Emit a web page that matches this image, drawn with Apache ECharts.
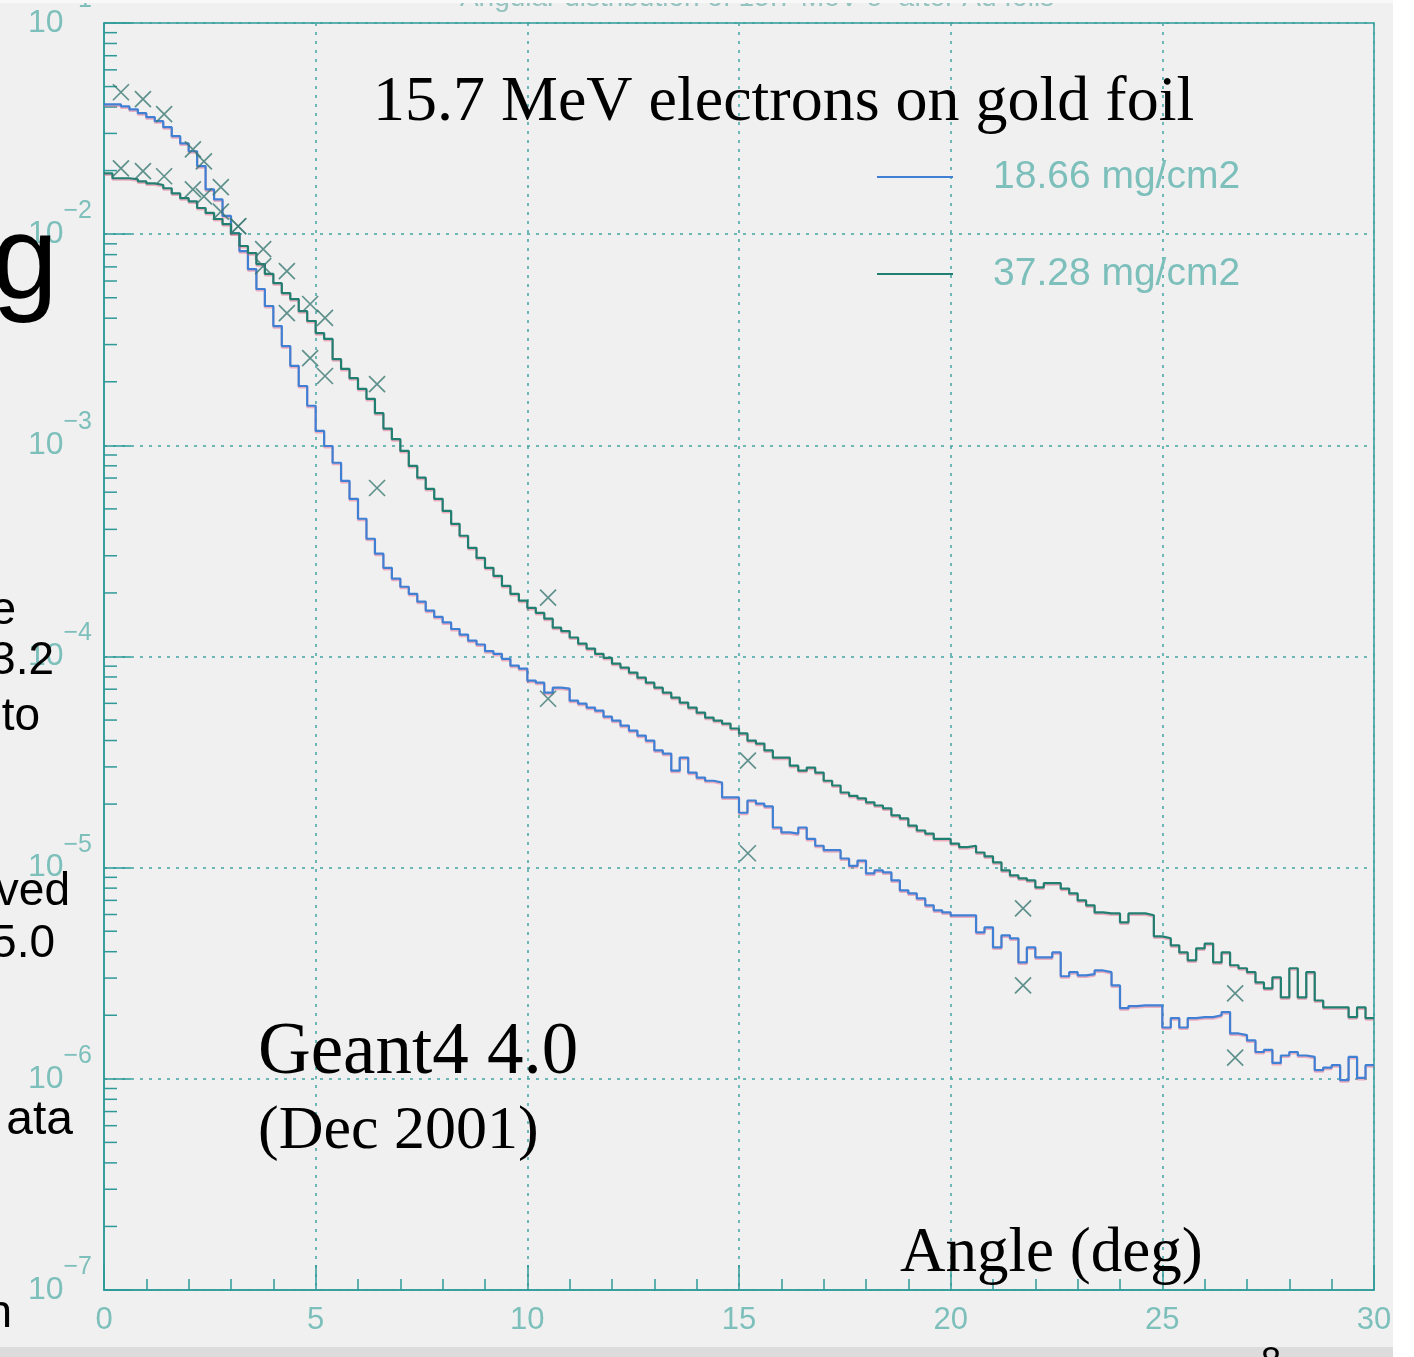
<!doctype html>
<html>
<head>
<meta charset="utf-8">
<title>Angular distribution of 15.7 MeV e- after Au foils</title>
<script src="https://cdn.jsdelivr.net/npm/echarts@6/dist/echarts.min.js"></script>
<style>
    html, body {margin: 0; padding: 0; background: #f0f0f0;}
    #chart {width: 1414px; height: 1357px;}
</style>
</head>
<body>
<div id="chart"></div>
<script>
    // histogram bins, 0.2 deg wide, 0..30 deg
    const binWidth = 0.2;
    const thinHist = [
        4.12e-2, 4.12e-2, 4.03e-2, 3.90e-2, 3.74e-2, 3.58e-2, 3.43e-2, 3.21e-2, 2.91e-2, 2.69e-2,
        2.47e-2, 2.10e-2, 1.63e-2, 1.46e-2, 1.22e-2, 1.01e-2, 8.32e-3, 6.83e-3, 5.50e-3, 4.57e-3,
        3.67e-3, 2.95e-3, 2.38e-3, 1.91e-3, 1.54e-3, 1.17e-3, 9.93e-4, 8.27e-4, 6.79e-4, 5.58e-4,
        4.49e-4, 3.61e-4, 3.07e-4, 2.63e-4, 2.34e-4, 2.14e-4, 1.98e-4, 1.82e-4, 1.65e-4, 1.54e-4,
        1.45e-4, 1.35e-4, 1.27e-4, 1.19e-4, 1.14e-4, 1.06e-4, 1.03e-4, 9.75e-5, 9.06e-5, 8.77e-5,
        7.69e-5, 7.52e-5, 6.74e-5, 7.12e-5, 7.04e-5, 6.18e-5, 5.98e-5, 5.73e-5, 5.54e-5, 5.19e-5,
        4.97e-5, 4.71e-5, 4.46e-5, 4.22e-5, 4.00e-5, 3.59e-5, 3.47e-5, 2.88e-5, 3.32e-5, 2.82e-5,
        2.67e-5, 2.58e-5, 2.53e-5, 2.15e-5, 2.15e-5, 1.82e-5, 2.08e-5, 2.01e-5, 1.95e-5, 1.55e-5,
        1.47e-5, 1.45e-5, 1.55e-5, 1.37e-5, 1.27e-5, 1.21e-5, 1.21e-5, 1.105e-5, 1.02e-5, 1.08e-5,
        9.39e-6, 9.70e-6, 9.49e-6, 8.70e-6, 7.81e-6, 7.55e-6, 7.15e-6, 6.63e-6, 6.28e-6, 6.14e-6,
        5.95e-6, 5.95e-6, 5.95e-6, 4.94e-6, 5.22e-6, 4.19e-6, 4.78e-6, 4.63e-6, 3.56e-6, 4.19e-6,
        3.76e-6, 3.76e-6, 3.97e-6, 3.06e-6, 3.20e-6, 3.09e-6, 3.13e-6, 3.26e-6, 3.20e-6, 2.77e-6,
        2.16e-6, 2.21e-6, 2.23e-6, 2.23e-6, 2.23e-6, 1.75e-6, 1.94e-6, 1.75e-6, 1.94e-6, 1.96e-6,
        1.96e-6, 2.00e-6, 2.07e-6, 1.64e-6, 1.61e-6, 1.52e-6, 1.34e-6, 1.37e-6, 1.19e-6, 1.29e-6,
        1.34e-6, 1.29e-6, 1.27e-6, 1.10e-6, 1.13e-6, 1.16e-6, 9.85e-7, 1.27e-6, 1.01e-6, 1.16e-6
    ];
    const thickHist = [
        1.94e-2, 1.84e-2, 1.84e-2, 1.82e-2, 1.78e-2, 1.74e-2, 1.71e-2, 1.65e-2, 1.56e-2, 1.48e-2,
        1.43e-2, 1.33e-2, 1.26e-2, 1.18e-2, 1.115e-2, 1.01e-2, 8.79e-3, 8.14e-3, 7.22e-3, 6.49e-3,
        5.86e-3, 5.26e-3, 4.93e-3, 4.32e-3, 3.88e-3, 3.40e-3, 3.19e-3, 2.56e-3, 2.30e-3, 2.08e-3,
        1.85e-3, 1.66e-3, 1.42e-3, 1.20e-3, 1.07e-3, 9.41e-4, 7.99e-4, 7.03e-4, 6.22e-4, 5.58e-4,
        4.89e-4, 4.25e-4, 3.73e-4, 3.27e-4, 2.93e-4, 2.63e-4, 2.41e-4, 2.16e-4, 1.98e-4, 1.84e-4,
        1.70e-4, 1.61e-4, 1.51e-4, 1.37e-4, 1.32e-4, 1.23e-4, 1.15e-4, 1.09e-4, 1.03e-4, 9.86e-5,
        9.25e-5, 8.86e-5, 8.39e-5, 7.94e-5, 7.52e-5, 7.12e-5, 6.74e-5, 6.39e-5, 6.05e-5, 5.73e-5,
        5.42e-5, 5.14e-5, 4.97e-5, 4.81e-5, 4.56e-5, 4.32e-5, 4.00e-5, 3.87e-5, 3.59e-5, 3.32e-5,
        3.32e-5, 3.04e-5, 2.88e-5, 2.98e-5, 2.82e-5, 2.58e-5, 2.45e-5, 2.27e-5, 2.19e-5, 2.13e-5,
        2.04e-5, 1.97e-5, 1.91e-5, 1.77e-5, 1.71e-5, 1.58e-5, 1.50e-5, 1.45e-5, 1.37e-5, 1.37e-5,
        1.30e-5, 1.25e-5, 1.27e-5, 1.18e-5, 1.13e-5, 1.06e-5, 9.70e-6, 9.19e-6, 8.90e-6, 8.70e-6,
        8.07e-6, 8.44e-6, 8.44e-6, 7.96e-6, 7.55e-6, 7.00e-6, 6.63e-6, 6.14e-6, 6.07e-6, 6.07e-6,
        5.51e-6, 6.07e-6, 6.07e-6, 5.95e-6, 4.73e-6, 4.63e-6, 4.29e-6, 3.97e-6, 3.64e-6, 4.15e-6,
        4.37e-6, 3.56e-6, 3.97e-6, 3.45e-6, 3.34e-6, 3.20e-6, 2.86e-6, 2.68e-6, 3.02e-6, 2.43e-6,
        3.34e-6, 2.43e-6, 3.20e-6, 2.35e-6, 2.18e-6, 2.18e-6, 2.18e-6, 1.96e-6, 2.18e-6, 1.94e-6
    ];

    // measured points (x markers)
    const dataAngles = [0.40, 0.92, 1.42, 2.10, 2.36, 2.76, 3.17, 3.76, 4.32, 4.87, 5.22, 6.45, 10.49, 15.21, 21.71, 26.72];
    const thinData = [4.70e-2, 4.36e-2, 3.70e-2, 2.52e-2, 2.21e-2, 1.67e-2, 1.09e-2, 7.06e-3, 4.23e-3, 2.59e-3, 2.13e-3, 6.28e-4, 6.31e-5, 1.17e-5, 2.77e-6, 1.26e-6];
    const thickData = [2.05e-2, 1.99e-2, 1.88e-2, 1.63e-2, 1.51e-2, 1.28e-2, 1.09e-2, 8.49e-3, 6.68e-3, 4.67e-3, 4.01e-3, 1.95e-3, 1.90e-4, 3.21e-5, 6.41e-6, 2.54e-6];

    // log axis minor tick positions
    const decades = [1e-7, 1e-6, 1e-5, 1e-4, 1e-3, 1e-2];
    const mantissas = [2, 3, 4, 5, 6, 7, 8, 9];

    const axisColor = '#2e9a98';
    const labelColor = '#7cbfbb';
    const gridColor = '#42a5a3';

    function steps(vals) {
        let pts = vals.map((v, i) => [+(i * binWidth).toFixed(2), v]);
        pts.push([30, vals[vals.length - 1]]);
        return pts;
    }

    let minorTicks = [];
    decades.forEach(d => mantissas.forEach(m => minorTicks.push([0, m * d])));

    const serif = '"Liberation Serif", "Times New Roman", serif';
    const sans = '"Liberation Sans", Arial, sans-serif';

    function slideText(text, x, y, size, family, align) {
        return {
            type: 'text', z: 100, silent: true,
            style: {x: x, y: y, text: text, fill: '#000', fontSize: size, fontFamily: family,
                align: align || 'left', verticalAlign: 'middle'}
        };
    }

    let chart = echarts.init(document.getElementById('chart'));
    chart.setOption({
        animation: false,
        backgroundColor: '#f0f0f0',
        grid: {left: 104, right: 40, top: 23, bottom: 67, outerBoundsMode: 'none', containLabel: false,
            show: true, borderColor: axisColor, borderWidth: 1.5},
        legend: {
            data: ['18.66 mg/cm2', '37.28 mg/cm2'],
            orient: 'vertical',
            left: 872, top: 152,
            icon: 'rect',
            itemWidth: 76, itemHeight: 2, itemGap: 57,
            textStyle: {color: labelColor, fontSize: 39, fontFamily: sans, lineHeight: 40, padding: [0, 0, 0, 35]}
        },
        xAxis: {
            type: 'value', min: 0, max: 30, interval: 5,
            axisLine: {lineStyle: {color: axisColor, width: 1.5}},
            axisTick: {inside: true, length: 25, lineStyle: {color: axisColor, width: 1.5}},
            minorTick: {show: true, splitNumber: 5, length: 11, lineStyle: {color: axisColor, width: 1.5}},
            splitLine: {show: true, lineStyle: {color: gridColor, type: [3, 6], width: 1.5}},
            axisLabel: {color: labelColor, fontSize: 31, fontFamily: sans, margin: 15}
        },
        yAxis: {
            type: 'log', logBase: 10, min: 1e-7, max: 1e-1,
            axisLine: {lineStyle: {color: axisColor, width: 1.5}},
            axisTick: {inside: true, length: 27, lineStyle: {color: axisColor, width: 1.5}},
            splitLine: {show: true, lineStyle: {color: gridColor, type: [3, 6], width: 1.5}},
            axisLabel: {
                margin: 12,
                formatter: function (v) {
                    let e = Math.round(Math.log10(v));
                    return '{b|10}{e|' + (e < 0 ? '\u2212' : '') + Math.abs(e) + '}';
                },
                rich: {
                    b: {color: labelColor, fontSize: 32, lineHeight: 32, fontFamily: sans, verticalAlign: 'middle'},
                    e: {color: labelColor, fontSize: 25, lineHeight: 25, fontFamily: sans, verticalAlign: 'middle', padding: [0, 0, 46, 0]}
                }
            }
        },
        series: [
            {
                name: '18.66 mg/cm2', type: 'line', step: 'end', symbol: 'none',
                lineStyle: {color: '#3f80d4', width: 2.2, shadowColor: 'rgba(230,90,130,0.45)', shadowOffsetY: 1.5},
                itemStyle: {color: '#3f80d4'},
                data: steps(thinHist), z: 3
            },
            {
                name: '37.28 mg/cm2', type: 'line', step: 'end', symbol: 'none',
                lineStyle: {color: '#217f72', width: 2.2, shadowColor: 'rgba(230,90,130,0.45)', shadowOffsetY: 1.5},
                itemStyle: {color: '#217f72'},
                data: steps(thickHist), z: 3
            },
            {
                name: 'data thin', type: 'scatter', symbol: 'path://M0 0L10 10M10 0L0 10', symbolSize: 16,
                itemStyle: {color: 'none', borderColor: '#3a7873', borderWidth: 1.7},
                data: dataAngles.map((a, i) => [a, thinData[i]]), z: 4
            },
            {
                name: 'data thick', type: 'scatter', symbol: 'path://M0 0L10 10M10 0L0 10', symbolSize: 16,
                itemStyle: {color: 'none', borderColor: '#3a7873', borderWidth: 1.7},
                data: dataAngles.map((a, i) => [a, thickData[i]]), z: 4
            },
            {
                name: 'minor ticks', type: 'custom', silent: true,
                renderItem: function (params, api) {
                    let p = api.coord([api.value(0), api.value(1)]);
                    return {
                        type: 'line',
                        shape: {x1: p[0], y1: p[1], x2: p[0] + 13, y2: p[1]},
                        style: {stroke: axisColor, lineWidth: 1.5}
                    };
                },
                data: minorTicks, z: 2
            }
        ],
        graphic: [
            // cut-off title of the original plot
            {type: 'text', z: 50, silent: true,
                style: {x: 757, y: -2, text: 'Angular distribution of 15.7 MeV e\u207b after Au foils', fill: '#93c2bf',
                    fontSize: 28, fontFamily: sans, align: 'center', verticalAlign: 'middle'}},
            slideText('15.7 MeV electrons on gold foil', 373, 103, 64, serif),
            slideText('Geant4 4.0', 258, 1054, 73, serif),
            slideText('(Dec 2001)', 258, 1132, 62, serif),
            slideText('Angle (deg)', 900, 1254, 63, serif),
            // slide text cut off on the left
            slideText('g', 58, 265, 119, sans, 'right'),
            slideText('e', 16, 611, 46, sans, 'right'),
            slideText('3.2', 54, 661, 46, sans, 'right'),
            slideText('to', 40, 717, 46, sans, 'right'),
            slideText('ved', 70, 892, 46, sans, 'right'),
            slideText('5.0', 55, 944, 46, sans, 'right'),
            slideText('ata', 73, 1121, 48, sans, 'right'),
            slideText('n', 12, 1314, 46, sans, 'right'),
            {type: 'rect', z: 90, silent: true, shape: {x: 0, y: 1347, width: 1393, height: 10}, style: {fill: '#dcdcdc'}},
            {type: 'rect', z: 90, silent: true, shape: {x: 1393, y: 0, width: 21, height: 1357}, style: {fill: '#ffffff'}},
            {type: 'rect', z: 90, silent: true, shape: {x: 0, y: 0, width: 1393, height: 3}, style: {fill: '#f8f8f8'}},
            {type: 'text', z: 100, silent: true,
                style: {x: 1271, y: 1345, text: '8', fill: '#000', fontSize: 36, fontFamily: sans, align: 'center', verticalAlign: 'top'}}
        ]
    });

    window.onresize = function () {
        chart.resize();
    };
</script>
</body>
</html>
